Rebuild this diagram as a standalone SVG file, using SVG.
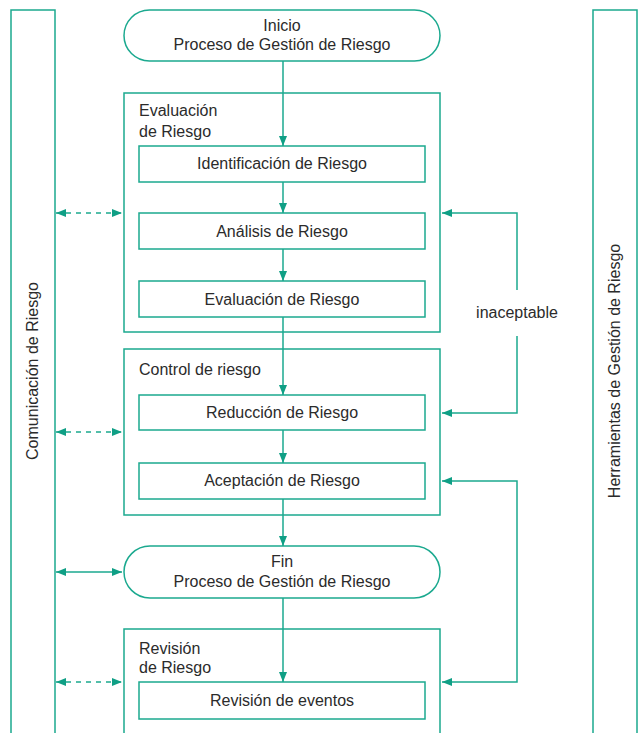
<svg xmlns="http://www.w3.org/2000/svg" width="640" height="733" viewBox="0 0 640 733">
<style>
.s{fill:#fff;stroke:#1ba98f;stroke-width:1.5}
.c{fill:none;stroke:#1ba98f;stroke-width:1.5}
.d{fill:none;stroke:#1ba98f;stroke-width:1.5;stroke-dasharray:5 5}
text{font-family:"Liberation Sans",Arial,sans-serif;font-size:16px;fill:#2b2b2b}
.m{text-anchor:middle}
</style>
<defs>
<marker id="a" viewBox="0 0 10 8" refX="10" refY="4" markerWidth="10" markerHeight="8" markerUnits="userSpaceOnUse" orient="auto-start-reverse">
<path d="M0,0L10,4L0,8z" fill="#0f9f85"/>
</marker>
</defs>
<g id="comunicacion">
<path class="c" d="M11,734V10H55V734"/>
<text class="m" transform="translate(38,371) rotate(-90)">Comunicación de Riesgo</text>
</g>
<g id="herramientas">
<path class="c" d="M593,734V10H637V734"/>
<text class="m" transform="translate(620,371) rotate(-90)">Herramientas de Gestión de Riesgo</text>
</g>
<g id="evaluacion-grupo">
<rect class="s" x="124" y="93" width="316" height="239"/>
<text x="139" y="116">Evaluación</text>
<text x="139" y="137">de Riesgo</text>
</g>
<g id="control-grupo">
<rect class="s" x="124" y="349" width="316" height="166"/>
<text x="139" y="375">Control de riesgo</text>
</g>
<g id="revision-grupo">
<path class="c" d="M124,734V629H440V734"/>
<text x="139" y="654">Revisión</text>
<text x="139" y="673">de Riesgo</text>
</g>
<g id="inicio">
<rect class="s" x="124" y="10" width="316" height="51" rx="25.5"/>
<text class="m" x="282" y="31">Inicio</text>
<text class="m" x="282" y="50">Proceso de Gestión de Riesgo</text>
</g>
<g id="identificacion">
<rect class="s" x="139" y="146" width="286" height="36"/>
<text class="m" x="282" y="169">Identificación de Riesgo</text>
</g>
<g id="analisis">
<rect class="s" x="139" y="213" width="286" height="36"/>
<text class="m" x="282" y="237">Análisis de Riesgo</text>
</g>
<g id="evaluacion">
<rect class="s" x="139" y="281" width="286" height="36"/>
<text class="m" x="282" y="305">Evaluación de Riesgo</text>
</g>
<g id="reduccion">
<rect class="s" x="139" y="395" width="286" height="35"/>
<text class="m" x="282" y="418">Reducción de Riesgo</text>
</g>
<g id="aceptacion">
<rect class="s" x="139" y="463" width="286" height="36"/>
<text class="m" x="282" y="486">Aceptación de Riesgo</text>
</g>
<g id="fin">
<rect class="s" x="124" y="546" width="316" height="52" rx="26"/>
<text class="m" x="282" y="567">Fin</text>
<text class="m" x="282" y="587">Proceso de Gestión de Riesgo</text>
</g>
<g id="revision-eventos">
<rect class="s" x="139" y="682" width="286" height="37"/>
<text class="m" x="282" y="706">Revisión de eventos</text>
</g>
<g id="connectors">
<path class="c" marker-end="url(#a)" d="M283,61V146"/>
<path class="c" marker-end="url(#a)" d="M283,182V213"/>
<path class="c" marker-end="url(#a)" d="M283,249V281"/>
<path class="c" marker-end="url(#a)" d="M283,317V395"/>
<path class="c" marker-end="url(#a)" d="M283,430V463"/>
<path class="c" marker-end="url(#a)" d="M283,499V546"/>
<path class="c" marker-end="url(#a)" d="M283,598V682"/>
<path class="d" marker-start="url(#a)" marker-end="url(#a)" d="M56,213H122"/>
<path class="d" marker-start="url(#a)" marker-end="url(#a)" d="M56,432H122"/>
<path class="c" marker-start="url(#a)" marker-end="url(#a)" d="M56,572H122"/>
<path class="d" marker-start="url(#a)" marker-end="url(#a)" d="M56,682H122"/>
<path class="c" marker-end="url(#a)" d="M517,290V213H442"/>
<path class="c" marker-end="url(#a)" d="M517,336V413H442"/>
<text class="m" x="517" y="318">inaceptable</text>
<path class="c" marker-start="url(#a)" marker-end="url(#a)" d="M442,481H517V682H442"/>
</g>
</svg>
